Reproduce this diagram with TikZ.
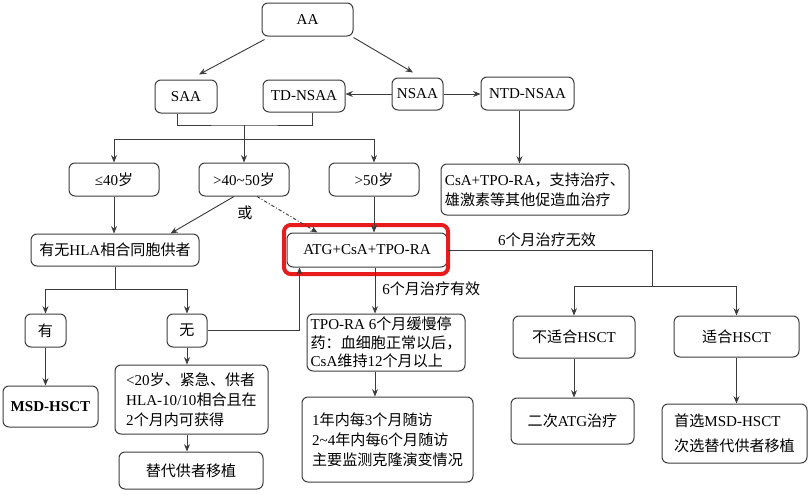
\documentclass[tikz,border=0pt]{standalone}
\usepackage{fontspec}
\setmainfont{Liberation Serif}
\newfontfamily\cjk{Noto Sans CJK SC}
\newcommand\zh[1]{{\cjk #1}}
\newcommand\fs{\fontsize{11.3}{15}\selectfont}
\usetikzlibrary{arrows.meta,calc}
\definecolor{hlred}{RGB}{232,28,28}
\definecolor{edge}{RGB}{60,60,60}
\newcommand\bnode[7][]{%
  \pgfmathsetmacro\cx{(#3+#5)/2}\pgfmathsetmacro\cy{(#4+#6)/2}%
  \pgfmathsetmacro\ww{(#5-#3)*0.75}\pgfmathsetmacro\hh{(#6-#4)*0.75}%
  \node[box,minimum width=\ww pt,minimum height=\hh pt,#1] (#2) at (\cx,\cy) {#7};}
\begin{document}
\begin{tikzpicture}[x=0.75pt,y=-0.75pt,
  box/.style={draw=edge, line width=0.75pt, rounded corners=4.5pt, inner sep=1pt, font=\fs},
  arr/.style={-{Stealth[length=5.5pt,width=4.5pt]}, line width=0.7pt, draw=edge},
  ln/.style={line width=0.7pt, draw=edge},
  lbl/.style={font=\fs, inner sep=0pt}]
\useasboundingbox (0,0) rectangle (810,496);

% nodes
\bnode{aa}{262}{3}{353}{36}{AA}
\bnode{saa}{155}{80}{217}{113}{SAA}
\bnode{td}{263}{80}{345}{112}{TD-NSAA}
\bnode{nsaa}{392}{78}{443}{110}{NSAA}
\bnode{ntd}{481}{77}{574}{110}{NTD-NSAA}
\bnode{a1}{69}{163}{159}{196}{≤40\zh{岁}}
\bnode{a2}{199}{163}{289}{196}{>40\textasciitilde50\zh{岁}}
\bnode{a3}{329}{163}{419}{196}{>50\zh{岁}}
\bnode[align=left]{csa}{441}{164}{629}{215}{CsA+TPO-RA\zh{，支持治疗、}\\\zh{雄激素等其他促造血治疗}}
\bnode{hla}{31}{234}{199}{266}{\zh{有无}HLA\zh{相合同胞供者}}
\bnode{atg}{287}{233}{447}{267}{ATG+CsA+TPO-RA}
\bnode[draw=hlred, line width=3pt, rounded corners=5pt]{hl}{284}{225}{448}{274}{}
\node[lbl] (orl) at (245,213) {\zh{或}};
\bnode{you}{25}{314}{66}{347}{\zh{有}}
\bnode{wu}{167}{314}{207}{347}{\zh{无}}
\bnode[font=\fs\bfseries]{msd}{3}{386}{98}{427}{MSD-HSCT}
\bnode[align=left]{lt20}{115}{365}{268}{434}{<20\zh{岁、紧急、供者}\\HLA-10/10\zh{相合且在}\\2\zh{个月内可获得}}
\bnode{alt}{119}{452}{263}{489}{\zh{替代供者移植}}
\node[lbl, anchor=west] (eff) at (382,289) {6\zh{个月治疗有效}};
\bnode[align=left, font=\fontsize{11.3}{14}\selectfont]{tpo}{307}{314}{465}{371}{TPO-RA 6\zh{个月缓慢停}\\\zh{药：血细胞正常以后，}\\CsA\zh{维持}12\zh{个月以上}}
\bnode[align=left]{fol}{302}{397}{473}{482}{1\zh{年内每}3\zh{个月随访}\\2\textasciitilde4\zh{年内每}6\zh{个月随访}\\\zh{主要监测克隆演变情况}}
\node[lbl] (ineff) at (547,240) {6\zh{个月治疗无效}};
\bnode{nofit}{513}{316}{635}{358}{\zh{不适合}HSCT}
\bnode{okhs}{674}{316}{799}{357}{\zh{适合}HSCT}
\bnode{atg2}{511}{398}{634}{444}{\zh{二次}ATG\zh{治疗}}
\bnode[align=left]{first}{662}{404}{807}{463}{\zh{首选}MSD-HSCT\\[4pt]\zh{次选替代供者移植}}

% connectors
\draw[arr] ($(aa.south west)+(3,3)$) -- ($(saa.north)+(13,-5)$);
\draw[arr] ($(aa.south east)+(0,1)$) -- ($(nsaa.north)+(-4.5,-5)$);
\draw[arr] (nsaa.west) -- (nsaa.west -| td.east);
\draw[arr] (nsaa.east) -- (nsaa.east -| ntd.west);
\draw[arr] ($(ntd.south)+(-8,0)$) coordinate (n1) -- (n1 |- csa.north);

\coordinate (j1) at (244,125);
\coordinate (j2) at (244,139);
\draw[ln] ($(saa.south)+(-9,0)$) |- (j1) -| ($(td.south)+(8,0)$);
\draw[ln] (j2 -| a1) -- (j2 -| a3);
\draw[arr] (j1) -- (j1 |- a2.north);
\draw[arr] (j2 -| a1) -- (a1.north);
\draw[arr] (j2 -| a3) -- (a3.north);

\draw[arr] (a1.south) -- (a1.south |- hla.north);
\draw[arr] ($(a2.south)+(-10,0)$) -- ($(hla.north east)+(-29,0)$);
\draw[arr, dash pattern=on 2.5pt off 1.5pt on 0.8pt off 1.5pt] ($(a2.south)+(13,0)$) -- ($(atg.north west)+(31,0)$);
\draw[arr] (a3.south) -- (a3.south |- atg.north);

\coordinate (h1) at (115,289);
\draw[ln] (hla.south) -- (h1);
\draw[ln] (h1 -| you) -- (h1 -| wu);
\draw[arr] (h1 -| you) -- (you.north);
\draw[arr] (h1 -| wu) -- (wu.north);
\draw[arr] (wu.east) -| ($(atg.south west)+(13,0)$);
\draw[arr] (you.south) -- (you.south |- msd.north);
\draw[arr] (wu.south) -- (wu.south |- lt20.north);
\draw[arr] (wu.south |- lt20.south) -- (wu.south |- alt.north);

\draw[arr] ($(atg.south)+(8,0)$) coordinate (t1) -- (t1 |- tpo.north);
\draw[arr] (t1 |- tpo.south) -- (t1 |- fol.north);

\coordinate (r1) at (652,250);
\coordinate (r2) at (652,286);
\draw[ln] (atg.east) -- (atg.east -| r1) -- (r2);
\draw[ln] (r2 -| nofit) -- (r2 -| okhs);
\draw[arr] (r2 -| nofit) -- (nofit.north);
\draw[arr] (r2 -| okhs) -- (okhs.north);
\draw[arr] (nofit.south) -- (nofit.south |- atg2.north);
\draw[arr] (okhs.south) -- (okhs.south |- first.north);
\end{tikzpicture}
\end{document}
